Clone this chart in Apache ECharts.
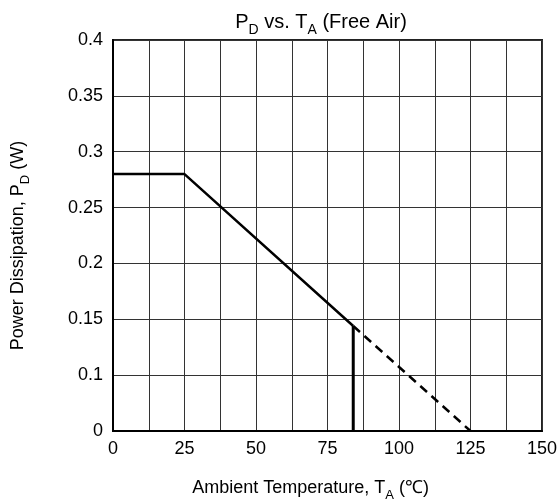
<!DOCTYPE html>
<html>
<head>
<meta charset="utf-8">
<script src="https://cdn.jsdelivr.net/npm/echarts@6/dist/echarts.min.js"></script>
<style>html,body{margin:0;padding:0;background:#fff}#c{width:559px;height:502px}</style>
</head>
<body>
<div id="c"></div>
<script>
// Data (real units: temperature °C, power W)
const flatSegment = [[0, 0.28], [25, 0.28], [84, 0.144]];
const verticalDrop = [[84, 0.144], [84, 0]];
const derateDashed = [[84, 0.144], [125, 0]];
const xTickValues = [0, 25, 50, 75, 100, 125, 150];
const yTickLabels = ['0', '0.1', '0.15', '0.2', '0.25', '0.3', '0.35', '0.4'];

// The printed y scale is piecewise: 0..0.1 occupies one grid step, then 0.05 per step.
function yPos(v) { return v >= 0.1 ? 1 + (v - 0.1) / 0.05 : v / 0.1; }
const mapPts = pts => pts.map(p => [p[0], yPos(p[1])]);

const chart = echarts.init(document.getElementById('c'), null, {renderer: 'canvas'});
const font = '"Liberation Sans", Arial, sans-serif';
const rich = (n, s) => ({
  n: {fontFamily: font, fontSize: n, fontWeight: 'normal', color: '#000'},
  s: {fontFamily: font, fontSize: s, fontWeight: 'normal', color: '#000', verticalAlign: 'bottom', padding: [0, 0, -5, 0]}
});
chart.setOption({
  animation: false,
  backgroundColor: '#fff',
  title: {
    text: '{n|P}{s|D}{n| vs. T}{s|A}{n| (Free Air)}',
    left: 316, top: 7, textAlign: 'center',
    textStyle: {fontWeight: 'normal', rich: rich(20, 14)}
  },
  grid: {left: 113, right: 17, top: 40, bottom: 71, outerBoundsMode: 'none', containLabel: false,
         show: true, borderColor: '#222', borderWidth: 2},
  xAxis: {
    type: 'value', min: 0, max: 150, interval: 12.5,
    axisLine: {show: true, lineStyle: {color: '#000', width: 2}},
    axisTick: {show: false},
    splitLine: {show: true, lineStyle: {color: '#333', width: 1}},
    axisLabel: {
      fontFamily: font, fontSize: 18, color: '#000', margin: 9,
      formatter: v => xTickValues.includes(v) ? String(v) : ''
    },
    name: '{n|Ambient Temperature, T}{s|A}{n| (℃)}',
    nameLocation: 'middle', nameGap: 48,
    nameTextStyle: {rich: rich(18, 13), padding: [0, 34, 0, 0]}
  },
  yAxis: {
    type: 'value', min: 0, max: 7, interval: 1,
    axisLine: {show: true, lineStyle: {color: '#000', width: 2}},
    axisTick: {show: false},
    splitLine: {show: true, lineStyle: {color: '#333', width: 1}},
    axisLabel: {
      fontFamily: font, fontSize: 18, color: '#000', margin: 10,
      formatter: v => yTickLabels[Math.round(v)]
    },
    name: '{n|Power Dissipation, P}{s|D}{n| (W)}',
    nameLocation: 'middle', nameGap: 86, nameRotate: 90,
    nameTextStyle: {rich: rich(18, 13), padding: [0, 20, 0, 0]}
  },
  series: [
    {type: 'line', data: mapPts(flatSegment), symbol: 'none', lineStyle: {color: '#000', width: 2.5}, z: 5},
    {type: 'line', data: mapPts(verticalDrop), symbol: 'none', lineStyle: {color: '#000', width: 3}, z: 5},
    {type: 'line', data: mapPts(derateDashed), symbol: 'none', lineStyle: {color: '#000', width: 2.5, type: [9, 6]}, z: 5}
  ]
});
</script>
</body>
</html>
